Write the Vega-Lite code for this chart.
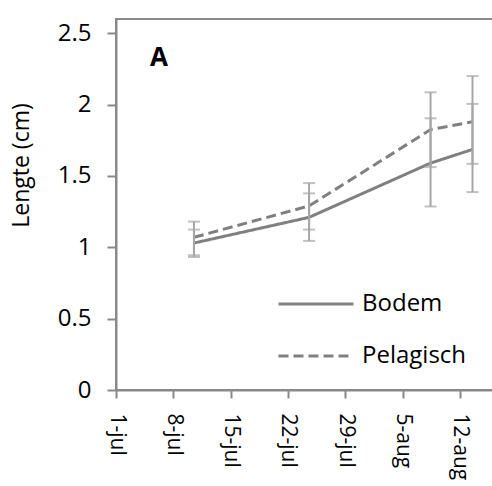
{
  "$schema": "https://vega.github.io/schema/vega-lite/v6.json",
  "width": 378,
  "height": 371,
  "autosize": "none",
  "padding": {"left": 116, "top": 19, "right": 0, "bottom": 96},
  "background": "white",
  "config": {
    "font": "Open Sans",
    "view": {"stroke": "#898989", "strokeWidth": 2}
  },
  "title": {
    "text": "A",
    "anchor": "start",
    "frame": "group",
    "orient": "top",
    "offset": 0,
    "dx": 34,
    "dy": 73,
    "baseline": "alphabetic",
    "fontSize": 26,
    "fontWeight": "bold",
    "color": "black"
  },
  "data": {
    "values": [
      {"date": "2013-07-10T12:30:00Z", "series": "Bodem", "mean": 1.03, "lo": 0.932, "hi": 1.124},
      {"date": "2013-07-10T12:30:00Z", "series": "Pelagisch", "mean": 1.07, "lo": 0.944, "hi": 1.18},
      {"date": "2013-07-24T14:00:00Z", "series": "Bodem", "mean": 1.21, "lo": 1.045, "hi": 1.378},
      {"date": "2013-07-24T14:00:00Z", "series": "Pelagisch", "mean": 1.29, "lo": 1.124, "hi": 1.45},
      {"date": "2013-08-08T10:00:00Z", "series": "Bodem", "mean": 1.59, "lo": 1.286, "hi": 1.904},
      {"date": "2013-08-08T10:00:00Z", "series": "Pelagisch", "mean": 1.825, "lo": 1.562, "hi": 2.086},
      {"date": "2013-08-13T13:00:00Z", "series": "Bodem", "mean": 1.686, "lo": 1.387, "hi": 2.005},
      {"date": "2013-08-13T13:00:00Z", "series": "Pelagisch", "mean": 1.88, "lo": 1.585, "hi": 2.2}
    ]
  },
  "encoding": {
    "x": {
      "field": "date",
      "type": "temporal",
      "scale": {
        "type": "utc",
        "domain": [
          {"year": 2013, "month": 7, "date": 1, "utc": true},
          {"year": 2013, "month": 8, "date": 16, "hours": 4, "utc": true}
        ]
      },
      "axis": {
        "title": null,
        "grid": false,
        "values": [
          {"year": 2013, "month": 7, "date": 1, "utc": true},
          {"year": 2013, "month": 7, "date": 8, "utc": true},
          {"year": 2013, "month": 7, "date": 15, "utc": true},
          {"year": 2013, "month": 7, "date": 22, "utc": true},
          {"year": 2013, "month": 7, "date": 29, "utc": true},
          {"year": 2013, "month": 8, "date": 5, "utc": true},
          {"year": 2013, "month": 8, "date": 12, "utc": true}
        ],
        "labelExpr": "lower(utcFormat(datum.value, '%-d-%b'))",
        "labelAngle": 90,
        "labelAlign": "left",
        "labelBaseline": "middle",
        "labelFontSize": 21,
        "labelColor": "black",
        "labelPadding": 15,
        "labelFlush": false,
        "labelOverlap": false,
        "tickSize": 8,
        "tickWidth": 2,
        "tickColor": "#898989",
        "domainColor": "#898989",
        "domainWidth": 2
      }
    }
  },
  "layer": [
    {
      "mark": {"type": "line", "strokeWidth": 3, "color": "#808080", "strokeCap": "butt"},
      "encoding": {
        "y": {
          "field": "mean",
          "type": "quantitative",
          "scale": {"domain": [0, 2.5]},
          "axis": {
            "title": "Lengte  (cm)",
            "titleFontSize": 23,
            "titleFontWeight": "normal",
            "titleColor": "black",
            "titleX": -95,
            "titleY": 146,
            "titleBaseline": "middle",
            "titleAlign": "center",
            "grid": false,
            "values": [0, 0.5, 1, 1.5, 2, 2.5],
            "format": "~g",
            "labelFontSize": 24,
            "labelColor": "black",
            "labelPadding": 16,
            "tickSize": 9,
            "tickWidth": 2,
            "tickColor": "#898989",
            "domainColor": "#898989",
            "domainWidth": 2
          }
        },
        "strokeDash": {
          "field": "series",
          "type": "nominal",
          "scale": {"domain": ["Bodem", "Pelagisch"], "range": [[1, 0], [10, 5]]},
          "legend": {
            "title": null,
            "orient": "none",
            "legendX": 161,
            "legendY": 246,
            "symbolType": "stroke",
            "symbolSize": 5625,
            "symbolStrokeWidth": 3,
            "symbolStrokeColor": "#808080",
            "labelFontSize": 24,
            "labelColor": "black",
            "labelOffset": 7,
            "rowPadding": 1,
            "padding": 0
          }
        }
      }
    },
    {
      "mark": {"type": "rule", "color": "#a6a6a6", "strokeWidth": 2},
      "encoding": {
        "y": {"field": "lo", "type": "quantitative"},
        "y2": {"field": "hi"}
      }
    },
    {
      "mark": {"type": "tick", "orient": "horizontal", "color": "#a6a6a6", "size": 12, "thickness": 2},
      "encoding": {
        "y": {"field": "lo", "type": "quantitative"}
      }
    },
    {
      "mark": {"type": "tick", "orient": "horizontal", "color": "#a6a6a6", "size": 12, "thickness": 2},
      "encoding": {
        "y": {"field": "hi", "type": "quantitative"}
      }
    }
  ]
}
